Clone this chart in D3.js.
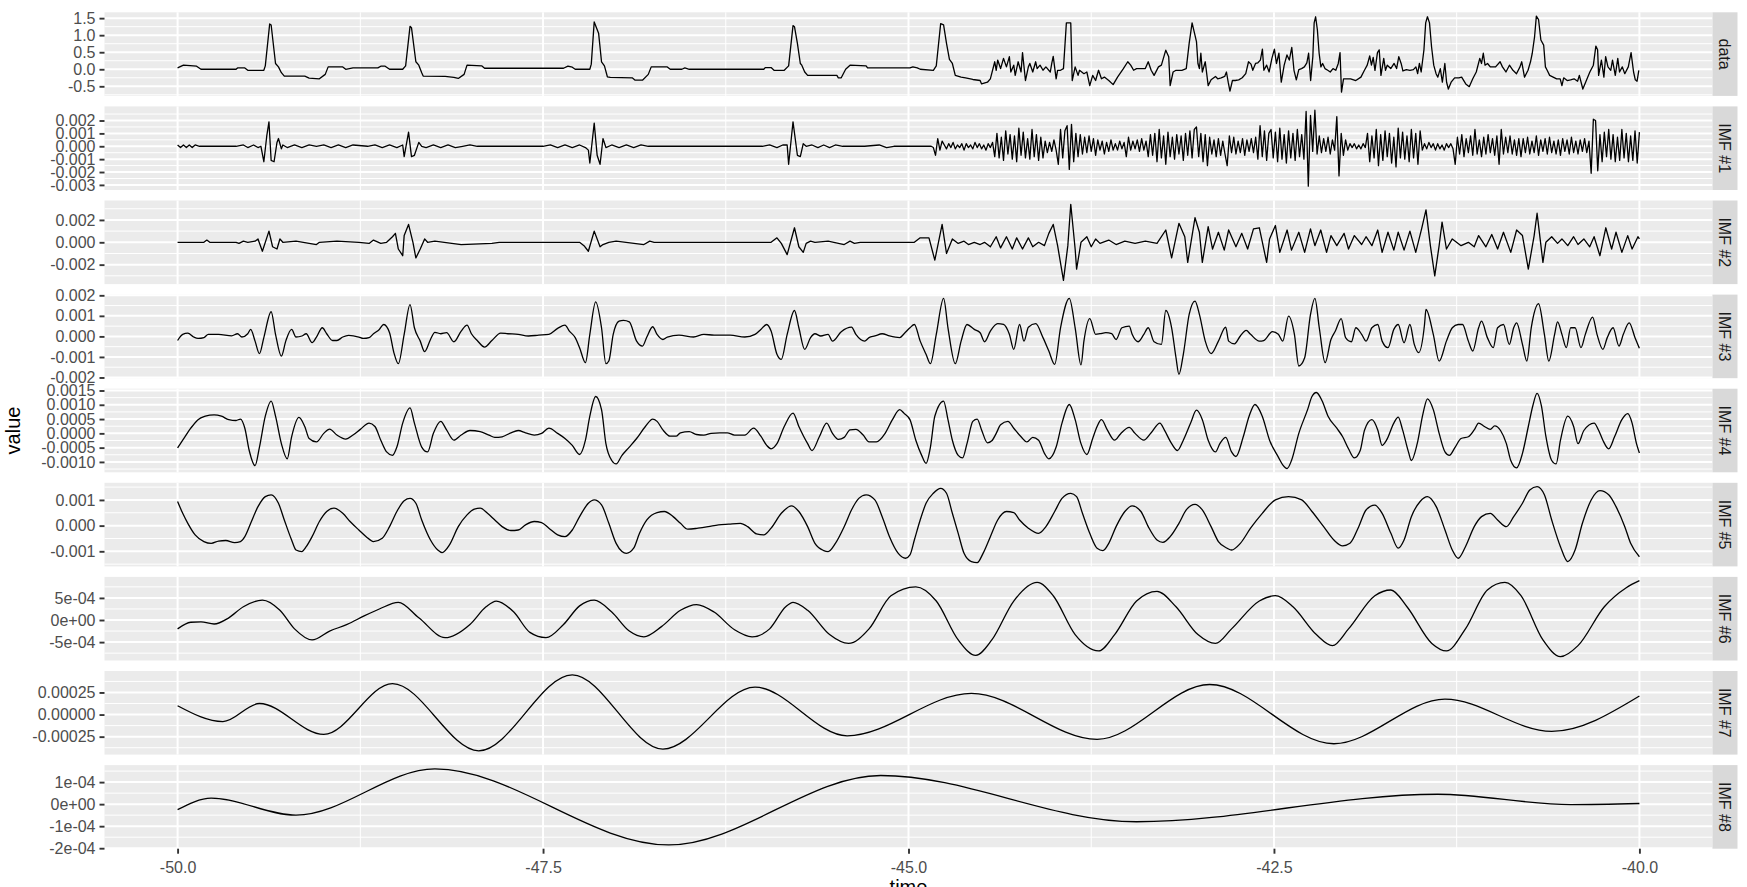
<!DOCTYPE html>
<html><head><meta charset="utf-8">
<script src="https://cdn.jsdelivr.net/npm/d3@7"></script>
<style>body{margin:0;background:#fff}svg{display:block}</style>
</head><body>
<svg id="chart" width="1747" height="887"></svg>
<script>
// ---------------- DATA ----------------
const panelLabels = ["data","IMF #1","IMF #2","IMF #3","IMF #4","IMF #5","IMF #6","IMF #7","IMF #8"];
const xTicks = [-50,-47.5,-45,-42.5,-40];
const xTickLabels = ["-50.0","-47.5","-45.0","-42.5","-40.0"];
const xTitle = "time", yTitle = "value";

const yTicksData = [-0.5,0,0.5,1,1.5];
const yLabelsData = ["-0.5","0.0","0.5","1.0","1.5"];
const yTicksImf1 = [-0.003,-0.002,-0.001,0,0.001,0.002];
const yLabelsImf1 = ["-0.003","-0.002","-0.001","0.000","0.001","0.002"];
const yTicksImf2 = [-0.002,0,0.002];
const yLabelsImf2 = ["-0.002","0.000","0.002"];
const yTicksImf3 = [-0.002,-0.001,0,0.001,0.002];
const yLabelsImf3 = ["-0.002","-0.001","0.000","0.001","0.002"];
const yTicksImf4 = [-0.001,-0.0005,0,0.0005,0.001,0.0015];
const yLabelsImf4 = ["-0.0010","-0.0005","0.0000","0.0005","0.0010","0.0015"];
const yTicksImf5 = [-0.001,0,0.001];
const yLabelsImf5 = ["-0.001","0.000","0.001"];
const yTicksImf6 = [-0.0005,0,0.0005];
const yLabelsImf6 = ["-5e-04","0e+00","5e-04"];
const yTicksImf7 = [-0.00025,0,0.00025];
const yLabelsImf7 = ["-0.00025","0.00000","0.00025"];
const yTicksImf8 = [-0.0002,-0.0001,0,0.0001];
const yLabelsImf8 = ["-2e-04","-1e-04","0e+00","1e-04"];

const seriesData = [
[-50.00,0.04],[-49.96,0.12],[-49.87,0.09],[-49.84,0.00],[-49.60,0.00],[-49.59,0.04],[-49.54,0.04],[-49.52,-0.03],[-49.41,-0.03],[-49.40,0.10],[-49.37,1.33],[-49.36,1.30],[-49.33,0.17],[-49.31,0.07],[-49.29,-0.10],[-49.27,-0.20],[-49.13,-0.20],[-49.10,-0.26],[-49.03,-0.28],[-48.99,-0.15],[-48.97,0.07],[-48.87,0.07],[-48.85,0.00],[-48.80,0.04],[-48.63,0.04],[-48.61,0.09],[-48.58,0.09],[-48.55,0.00],[-48.46,0.00],[-48.44,0.10],[-48.41,1.26],[-48.40,1.22],[-48.37,0.22],[-48.35,0.12],[-48.33,-0.10],[-48.32,-0.20],[-48.17,-0.21],[-48.11,-0.24],[-48.08,-0.27],[-48.04,-0.15],[-48.02,0.12],[-47.92,0.10],[-47.90,0.03],[-47.36,0.03],[-47.33,0.09],[-47.30,0.06],[-47.28,0.00],[-47.18,0.00],[-47.17,0.15],[-47.15,1.39],[-47.12,1.06],[-47.10,0.22],[-47.08,0.10],[-47.06,-0.22],[-47.04,-0.24],[-46.89,-0.25],[-46.87,-0.32],[-46.82,-0.32],[-46.78,-0.15],[-46.76,0.07],[-46.65,0.07],
[-46.63,0.00],[-46.55,0.00],[-46.53,0.04],[-46.50,0.00],[-45.99,0.00],[-45.98,0.05],[-45.94,0.05],[-45.92,-0.03],[-45.85,-0.03],[-45.82,0.10],[-45.79,1.28],[-45.78,1.25],[-45.76,0.76],[-45.74,0.17],[-45.73,0.12],[-45.71,-0.08],[-45.69,-0.18],[-45.49,-0.18],[-45.48,-0.25],[-45.46,-0.25],[-45.43,0.00],[-45.40,0.12],[-45.29,0.10],[-45.28,0.04],[-44.99,0.04],[-44.97,0.07],[-44.94,0.04],[-44.92,0.00],[-44.83,-0.03],[-44.81,0.10],[-44.78,1.34],[-44.76,1.30],[-44.74,0.76],[-44.72,0.29],[-44.70,0.17],[-44.68,-0.18],[-44.64,-0.23],[-44.61,-0.25],[-44.56,-0.30],[-44.51,-0.33],[-44.50,-0.43],[-44.46,-0.38],[-44.44,-0.28],[-44.41,0.22],[-44.40,-0.03],[-44.39,0.27],[-44.37,0.02],[-44.35,0.32],[-44.33,0.07],[-44.31,0.37],[-44.30,-0.08],[-44.28,0.12],[-44.27,-0.18],[-44.25,0.22],[-44.23,-0.08],[-44.22,0.49],[-44.20,-0.33],[-44.18,0.07],[-44.17,0.17],[-44.15,-0.08],[-44.13,0.22],[-44.12,0.02],[-44.10,0.12],[-44.08,-0.03],[-44.06,0.07],[-44.03,-0.08],[-44.02,0.17],[-44.01,0.38],[-43.99,-0.28],[-43.98,-0.03],[-43.96,-0.03],[-43.94,0.02],[-43.92,1.36],[-43.89,1.36],[-43.88,-0.33],[-43.86,0.07],[-43.84,-0.18],[-43.83,-0.03],[-43.80,-0.13],[-43.78,-0.08],[-43.76,-0.48],[-43.74,-0.18],[-43.72,-0.33],[-43.70,-0.03],[-43.68,-0.28],[-43.66,-0.23],[-43.63,-0.33],[-43.60,-0.45],[-43.57,-0.23],[-43.53,0.02],[-43.50,0.22],[-43.48,0.12],[-43.46,-0.03],[-43.44,0.02],[-43.38,0.02],[-43.36,0.22],[-43.34,-0.03],[-43.32,-0.18],[-43.29,0.07],[-43.27,0.12],[-43.24,0.56],[-43.22,0.37],[-43.21,-0.48],[-43.19,-0.08],[-43.17,-0.03],[-43.13,-0.03],[-43.10,0.02],[-43.08,0.76],[-43.06,1.36],[-43.03,0.81],[-43.02,0.17],[-43.01,0.02],[-43.00,0.47],[-42.99,-0.08],[-42.97,0.22],[-42.95,-0.48],[-42.93,-0.31],[-42.90,-0.21],
[-42.885,-0.28],[-42.861,-0.25],[-42.837,-0.21],[-42.825,-0.08],[-42.813,-0.38],[-42.801,-0.64],[-42.784,-0.33],[-42.765,-0.33],[-42.741,-0.31],[-42.717,-0.25],[-42.693,-0.13],[-42.674,0.22],[-42.657,0.15],[-42.645,-0.03],[-42.626,0.17],[-42.610,0.19],[-42.593,0.27],[-42.579,0.59],[-42.569,-0.03],[-42.550,0.12],[-42.533,-0.08],[-42.514,0.32],[-42.497,0.59],[-42.483,0.17],[-42.466,0.47],[-42.450,-0.38],[-42.430,0.12],[-42.411,0.42],[-42.395,0.27],[-42.378,0.64],[-42.363,-0.03],[-42.347,-0.31],[-42.330,-0.01],[-42.311,0.02],[-42.292,0.07],[-42.275,0.19],[-42.263,0.47],[-42.249,-0.33],[-42.234,0.37],[-42.225,1.36],[-42.215,1.54],[-42.203,1.16],[-42.191,0.47],[-42.179,0.07],[-42.167,0.17],[-42.151,0.02],[-42.132,-0.03],[-42.115,-0.08],[-42.096,0.02],[-42.077,-0.03],[-42.060,0.17],[-42.048,0.49],[-42.038,-0.67],[-42.024,-0.28],[-42.000,-0.28],[-41.976,-0.28],[-41.940,-0.33],[-41.905,-0.23],[-41.881,-0.03],[-41.862,0.12],[-41.845,0.39],[-41.833,0.12],[-41.821,0.35],[-41.809,-0.03],[-41.792,0.49],[-41.780,0.57],[-41.768,-0.18],[-41.749,0.32],[-41.737,-0.03],[-41.725,0.12],[-41.701,0.02],[-41.678,0.17],[-41.661,0.02],[-41.646,0.37],[-41.630,0.17],[-41.618,-0.05],[-41.594,-0.01],[-41.570,-0.03],[-41.546,-0.01],[-41.529,0.07],[-41.517,-0.13],[-41.505,0.17],[-41.493,-0.08],[-41.474,0.57],[-41.462,1.36],[-41.450,1.54],[-41.436,1.36],[-41.422,0.66],[-41.407,0.12],[-41.391,-0.13],[-41.379,-0.23],[-41.362,0.02],[-41.348,-0.38],[-41.331,0.17],[-41.319,-0.38],[-41.307,-0.58],[-41.288,-0.38],[-41.264,-0.25],[-41.235,-0.25],[-41.216,-0.23],[-41.188,-0.43],[-41.164,-0.51],[-41.140,-0.28],[-41.116,-0.08],[-41.092,0.32],[-41.080,0.17],[-41.068,0.47],[-41.056,0.12],[-41.039,0.17],[-41.020,0.07],[-40.984,0.07],[-40.953,0.22],[-40.937,0.07],[-40.913,-0.08],[-40.889,0.12],[-40.865,-0.03],[-40.841,-0.13],[-40.817,0.07],[-40.805,0.22],[-40.786,-0.23],[-40.762,-0.03],[-40.745,0.22],[-40.733,0.47],[-40.717,0.96],[-40.705,1.56],[-40.690,1.46],[-40.674,0.86],[-40.655,0.71],[-40.643,0.07],[-40.631,-0.03],[-40.614,-0.18],[-40.590,-0.23],[-40.566,-0.28],[-40.542,-0.28],[-40.530,-0.48],[-40.518,-0.25],[-40.494,-0.33],[-40.471,-0.31],[-40.447,-0.28],[-40.423,-0.35],[-40.411,-0.18],[-40.387,-0.58],[-40.363,-0.33],[-40.339,-0.08],[-40.315,0.12],[-40.298,0.68],[-40.286,0.57],[-40.279,-0.18],[-40.260,0.27],[-40.243,-0.23],[-40.231,0.37],[-40.215,0.07],[-40.196,-0.03],[-40.184,0.27],[-40.165,-0.18],[-40.148,0.32],[-40.136,-0.08],[-40.117,0.07],[-40.100,-0.13],[-40.076,0.07],[-40.057,0.49],[-40.040,-0.08],[-40.028,-0.31],[-40.016,-0.35],[-40.004,-0.03]
];

const seriesImf1Sparse = [
[-50.00,1e-4],[-49.98,-1e-4],[-49.96,1e-4],[-49.94,-1e-4],[-49.92,1e-4],[-49.90,-1e-4],[-49.88,1e-4],[-49.85,0],[-49.60,0],[-49.55,1e-4],[-49.52,-1e-4],[-49.48,1e-4],[-49.45,-1e-4],[-49.43,0],[-49.41,-12e-4],[-49.39,8e-4],[-49.375,19e-4],[-49.36,-11e-4],[-49.34,-12e-4],[-49.32,3e-4],[-49.31,6e-4],[-49.29,-2e-4],[-49.28,1e-4],[-49.25,-1e-4],[-49.20,1e-4],[-49.15,-1e-4],[-49.10,1e-4],[-49.05,0],[-49.00,1e-4],[-48.95,-1e-4],[-48.90,1e-4],[-48.85,-1e-4],[-48.80,1e-4],[-48.70,0],[-48.65,1e-4],[-48.60,-1e-4],[-48.55,1e-4],[-48.50,-1e-4],[-48.46,1e-4],[-48.45,-8e-4],[-48.42,11e-4],[-48.40,-8e-4],[-48.38,-7e-4],[-48.35,3e-4],[-48.33,0],[-48.30,-1e-4],[-48.25,1e-4],[-48.20,-1e-4],[-48.15,1e-4],[-48.10,-1e-4],[-48.05,0],[-48.00,1e-4],[-47.95,0],[-47.50,0],[-47.45,1e-4],[-47.40,-1e-4],[-47.35,1e-4],[-47.30,-1e-4],[-47.25,1e-4],[-47.21,-1e-4],[-47.19,-3e-4],[-47.18,-13e-4],[-47.15,18e-4],[-47.13,-7e-4],[-47.11,-14e-4],[-47.09,6e-4],[-47.07,-1e-4],[-47.03,1e-4],[-46.98,-1e-4],[-46.93,1e-4],[-46.88,-1e-4],[-46.83,1e-4],[-46.78,0],[-46.50,0],[-46.00,0],[-45.95,1e-4],[-45.90,-1e-4],[-45.86,1e-4],[-45.83,1e-4],[-45.82,-14e-4],[-45.79,19e-4],[-45.76,-7e-4],[-45.74,-8e-4],[-45.72,2e-4],[-45.70,0],[-45.66,1e-4],[-45.62,-1e-4],[-45.58,1e-4],[-45.54,-1e-4],[-45.50,1e-4],[-45.45,0],[-45.30,0],[-45.20,1e-4],[-45.15,-1e-4],[-45.10,0],[-44.86,0]
];
const imf1DenseStart = -44.845, imf1DenseEnd = -40.0;
const seriesImf1Dense = [
0,-1e-4,-7e-4,6e-4,-3e-4,4e-4,
1e-4,-2e-4,2e-4,-1e-4,3e-4,-2e-4,1e-4,-1e-4,2e-4,-3e-4,2e-4,-1e-4,1e-4,-2e-4,3e-4,-1e-4,2e-4,-2e-4,1e-4,-3e-4,2e-4,-1e-4,3e-4,
-8e-4,10e-4,-9e-4,7e-4,-11e-4,12e-4,-6e-4,9e-4,-10e-4,8e-4,-12e-4,14e-4,-7e-4,11e-4,-9e-4,6e-4,-10e-4,13e-4,-8e-4,9e-4,-11e-4,7e-4,-9e-4,
4e-4,-5e-4,3e-4,-4e-4,5e-4,-3e-4,
-14e-4,13e-4,-9e-4,12e-4,16e-4,-18e-4,17e-4,-12e-4,10e-4,-8e-4,9e-4,
-6e-4,7e-4,-5e-4,8e-4,-4e-4,6e-4,-7e-4,5e-4,-3e-4,4e-4,-6e-4,3e-4,-4e-4,5e-4,-3e-4,
2e-4,-3e-4,4e-4,-2e-4,3e-4,-8e-4,7e-4,-3e-4,4e-4,-2e-4,5e-4,-4e-4,6e-4,-3e-4,4e-4,-8e-4,
9e-4,-7e-4,10e-4,-12e-4,13e-4,-9e-4,8e-4,-14e-4,11e-4,-8e-4,7e-4,-10e-4,9e-4,-6e-4,8e-4,-11e-4,10e-4,-7e-4,12e-4,-9e-4,13e-4,15e-4,-8e-4,10e-4,-12e-4,9e-4,-15e-4,
7e-4,-6e-4,5e-4,-8e-4,6e-4,-7e-4,4e-4,-6e-4,-15e-4,8e-4,-5e-4,7e-4,-6e-4,4e-4,-5e-4,6e-4,-7e-4,5e-4,-4e-4,6e-4,-5e-4,7e-4,
-10e-4,16e-4,-8e-4,12e-4,-11e-4,10e-4,13e-4,-9e-4,11e-4,-12e-4,14e-4,-10e-4,9e-4,-13e-4,12e-4,-9e-4,10e-4,-11e-4,13e-4,-8e-4,9e-4,-10e-4,
27e-4,-31e-4,24e-4,-4e-4,28e-4,-6e-4,
8e-4,-5e-4,6e-4,-4e-4,7e-4,-6e-4,5e-4,-3e-4,
23e-4,-23e-4,10e-4,
-7e-4,5e-4,-3e-4,
2e-4,-1e-4,2e-4,-2e-4,1e-4,-2e-4,2e-4,-1e-4,
10e-4,-12e-4,8e-4,-9e-4,13e-4,-15e-4,9e-4,-11e-4,12e-4,-8e-4,10e-4,-13e-4,7e-4,-16e-4,14e-4,-9e-4,11e-4,-10e-4,8e-4,-12e-4,13e-4,-9e-4,10e-4,-14e-4,12e-4,
-3e-4,2e-4,-2e-4,3e-4,-1e-4,2e-4,-3e-4,2e-4,-2e-4,1e-4,-3e-4,2e-4,-1e-4,2e-4,-2e-4,
-14e-4,7e-4,-6e-4,9e-4,-8e-4,6e-4,-5e-4,8e-4,-7e-4,13e-4,-6e-4,5e-4,-8e-4,7e-4,-6e-4,9e-4,-5e-4,6e-4,-7e-4,8e-4,-14e-4,13e-4,-6e-4,7e-4,-5e-4,8e-4,-6e-4,5e-4,-7e-4,6e-4,-8e-4,
6e-4,-5e-4,7e-4,-6e-4,4e-4,-5e-4,8e-4,-7e-4,5e-4,-4e-4,6e-4,-6e-4,7e-4,-5e-4,4e-4,-6e-4,5e-4,-7e-4,6e-4,-4e-4,5e-4,-6e-4,7e-4,-5e-4,4e-4,-6e-4,5e-4,-4e-4,6e-4,-5e-4,4e-4,
-21e-4,21e-4,20e-4,-19e-4,
9e-4,-12e-4,11e-4,-8e-4,13e-4,-10e-4,9e-4,-12e-4,7e-4,-11e-4,13e-4,-9e-4,10e-4,-12e-4,8e-4,-11e-4,12e-4,-13e-4,11e-4
];

const seriesImf2 = [
[-50.00,0],[-49.82,0],[-49.80,2e-4],[-49.78,0],[-49.60,0],[-49.58,-1e-4],[-49.55,1e-4],[-49.52,0],[-49.47,1e-4],[-49.45,3e-4],[-49.42,-8e-4],[-49.375,10e-4],[-49.35,-4e-4],[-49.32,-6e-4],[-49.30,3e-4],[-49.28,0],[-49.19,1e-4],[-49.05,-2e-4],[-49.03,0],[-48.91,1e-4],[-48.76,0],[-48.69,-1e-4],[-48.66,2e-4],[-48.61,-1e-4],[-48.57,0],[-48.53,5e-4],[-48.51,8e-4],[-48.49,-6e-4],[-48.46,-12e-4],[-48.45,6e-4],[-48.42,16e-4],[-48.39,0],[-48.37,-14e-4],[-48.34,-6e-4],[-48.31,3e-4],[-48.29,0],[-48.24,1e-4],[-48.06,-2e-4],[-47.85,-1e-4],[-47.80,0],[-47.25,0],[-47.22,-3e-4],[-47.19,-8e-4],[-47.15,10e-4],[-47.11,-4e-4],[-47.09,-2e-4],[-47.05,0],[-47.00,1e-4],[-46.81,-2e-4],[-46.77,1e-4],[-46.74,0],[-45.97,0],[-45.94,0],[-45.90,4e-4],[-45.87,-1e-4],[-45.83,-11e-4],[-45.78,13e-4],[-45.75,-4e-4],[-45.72,-9e-4],[-45.70,-1e-4],[-45.67,1e-4],[-45.64,0],[-45.55,1e-4],[-45.44,-2e-4],[-45.40,1e-4],[-45.37,-1e-4],[-45.33,0],[-44.96,0],
[-44.92,4e-4],[-44.86,4e-4],[-44.82,-16e-4],[-44.77,16e-4],[-44.74,-10e-4],[-44.70,3e-4],[-44.66,-1e-4],[-44.62,1e-4],[-44.59,-2e-4],[-44.55,0],[-44.51,-2e-4],[-44.48,0],[-44.44,-4e-4],[-44.40,5e-4],[-44.37,-5e-4],[-44.33,5e-4],[-44.29,-6e-4],[-44.26,4e-4],[-44.22,-6e-4],[-44.18,4e-4],[-44.15,-4e-4],[-44.11,0],[-44.07,-3e-4],[-44.04,8e-4],[-44.01,16e-4],[-43.98,-3e-4],[-43.94,-34e-4],[-43.91,-3e-4],[-43.89,34e-4],[-43.86,-6e-4],[-43.85,-24e-4],[-43.82,0],[-43.78,5e-4],[-43.75,-4e-4],[-43.72,3e-4],[-43.69,-1e-4],[-43.63,2e-4],[-43.58,-2e-4],[-43.52,1e-4],[-43.45,-1e-4],[-43.38,1e-4],[-43.30,-1e-4],[-43.24,11e-4],[-43.20,-14e-4],[-43.15,17e-4],[-43.11,5e-4],[-43.09,-18e-4],[-43.04,22e-4],[-43.01,9e-4],[-42.99,-18e-4],[-42.95,14e-4],[-42.92,-6e-4],[-42.88,9e-4],[-42.84,-7e-4],[-42.81,11e-4],[-42.76,-4e-4],[-42.72,8e-4],[-42.68,-6e-4],[-42.64,12e-4],[-42.60,13e-4],[-42.55,-18e-4],[-42.53,3e-4],[-42.49,15e-4],[-42.46,-9e-4],[-42.41,11e-4],[-42.38,-7e-4],[-42.33,9e-4],[-42.29,-9e-4],[-42.25,12e-4],[-42.22,-3e-4],[-42.18,11e-4],[-42.14,-9e-4],[-42.11,6e-4],[-42.07,-3e-4],[-42.02,8e-4],[-41.99,-6e-4],[-41.95,6e-4],[-41.90,-2e-4],[-41.87,5e-4],[-41.83,-3e-4],[-41.79,11e-4],[-41.76,-9e-4],[-41.72,9e-4],[-41.68,-7e-4],[-41.65,9e-4],[-41.61,-7e-4],[-41.57,10e-4],[-41.53,-9e-4],[-41.49,12e-4],[-41.46,29e-4],[-41.43,-3e-4],[-41.40,-30e-4],[-41.37,-3e-4],[-41.35,18e-4],[-41.32,-6e-4],[-41.28,3e-4],[-41.22,-3e-4],[-41.17,0],[-41.13,-4e-4],[-41.10,6e-4],[-41.05,-4e-4],[-41.01,7e-4],[-40.97,-6e-4],[-40.93,9e-4],[-40.88,-9e-4],[-40.84,11e-4],[-40.80,6e-4],[-40.76,-24e-4],[-40.72,6e-4],[-40.70,26e-4],[-40.66,-18e-4],[-40.64,0],[-40.60,5e-4],[-40.56,-1e-4],[-40.53,3e-4],[-40.49,-3e-4],[-40.45,5e-4],[-40.42,-2e-4],[-40.38,3e-4],[-40.34,-4e-4],[-40.31,5e-4],[-40.27,-12e-4],[-40.23,13e-4],[-40.19,-6e-4],[-40.16,9e-4],[-40.12,-9e-4],[-40.08,6e-4],[-40.05,-6e-4],[-40.01,5e-4],[-40.00,3e-4]
];

const seriesImf3 = [
[-50.00,-0.0002],[-49.965,0.0001],[-49.93,0.00016],[-49.89,-0.00003],[-49.86,-0.0001],[-49.82,-0.00006],[-49.79,0.0001],[-49.72,0.0001],[-49.63,0.00003],[-49.59,0.00013],[-49.56,-0.00003],[-49.52,0.00013],[-49.50,0.00034],[-49.47,-0.00023],[-49.44,-0.00084],[-49.41,-0.00006],[-49.36,0.0012],[-49.33,0.0001],[-49.29,-0.00096],[-49.26,-0.00023],[-49.22,0.00034],[-49.19,-0.00003],[-49.15,0.00002],[-49.12,0.00013],[-49.08,-0.0003],[-49.05,-0.00003],[-49.01,0.00042],[-48.98,0.00013],[-48.94,-0.0002],[-48.91,-0.0002],[-48.87,-0.00003],[-48.83,0.00005],[-48.76,-0.00003],[-48.73,-0.0001],[-48.69,-0.00006],[-48.66,0.00013],[-48.62,0.00034],[-48.59,0.00058],[-48.55,0.00018],[-48.52,-0.0008],[-48.49,-0.00133],[-48.45,0.0001],[-48.41,0.00155],[-48.38,0.00042],[-48.34,-0.00023],[-48.31,-0.00074],[-48.27,-0.00015],[-48.24,0.0002],[-48.20,0.00013],[-48.16,0.00018],[-48.11,-0.00026],[-48.06,0.00026],[-48.02,0.00055],[-47.99,0.00013],[-47.95,-0.0002],[-47.90,-0.00052],[-47.85,-0.0002],[-47.79,0.00016],[-47.74,0.00013],[-47.67,0.0001],[-47.60,0.00002],[-47.53,0.00006],[-47.46,0.0001],[-47.40,0.00039],[-47.35,0.00055],[-47.32,0.00026],[-47.28,-0.00006],[-47.25,-0.00055],[-47.21,-0.00128],[-47.18,0.0001],[-47.14,0.00168],[-47.10,0.00042],[-47.07,-0.00133],[-47.05,-0.0012],[-47.02,0.0001],[-46.98,0.00074],[-46.95,0.00078],[-46.91,0.00071],[-46.86,-0.00023],[-46.82,-0.00047],[-46.79,-0.00003],[-46.75,0.00047],[-46.72,0.0001],[-46.68,-0.00015],[-46.65,-0.00003],[-46.57,0.00006],[-46.47,-0.00003],[-46.40,0.0001],[-46.33,0.00006],[-46.22,0.00006],[-46.12,-0.00003],[-46.05,0.0001],[-46.01,0.00034],[-45.97,0.00058],[-45.94,0.00026],[-45.90,-0.00087],[-45.87,-0.00112],[-45.83,0.0001],[-45.78,0.00126],[-45.75,0.00042],[-45.71,-0.00063],[-45.67,-0.00006],[-45.64,0.00013],[-45.60,0.00002],[-45.55,0.0001],[-45.52,-0.00023],[-45.46,0.00023],[-45.39,0.00045],[-45.36,0.0001],[-45.30,-0.00023],[-45.27,-0.00006],[-45.23,0.00002],[-45.18,0.00013],[-45.13,0.00002],[-45.06,-0.00006],
[-45.03,0.00013],[-44.99,0.00042],[-44.96,0.00058],[-44.92,-0.00023],[-44.88,-0.00087],[-44.85,-0.00133],[-44.81,0.0001],[-44.76,0.00185],[-44.73,0.00042],[-44.68,-0.00133],[-44.64,-0.00023],[-44.60,0.00058],[-44.55,0.00034],[-44.51,0.00018],[-44.48,-0.00026],[-44.44,0.00026],[-44.39,0.00062],[-44.35,0.00058],[-44.31,0.0001],[-44.28,-0.00063],[-44.24,0.00058],[-44.21,-0.00023],[-44.18,0.00045],[-44.13,0.00062],[-44.08,-0.00006],[-44.04,-0.00071],[-44.00,-0.00136],[-43.96,0.00042],[-43.90,0.00185],[-43.86,0.00042],[-43.82,-0.00139],[-43.80,-0.00023],[-43.76,0.00087],[-43.72,0.0001],[-43.69,0.00013],[-43.65,0.00018],[-43.61,0.00013],[-43.58,-0.00015],[-43.54,0.00042],[-43.49,0.0005],[-43.47,0.0001],[-43.43,-0.00026],[-43.39,0.0001],[-43.36,0.00042],[-43.32,-0.00026],[-43.27,-0.00039],[-43.24,0.00126],[-43.20,0.00042],[-43.17,-0.00104],[-43.15,-0.00185],[-43.12,-0.00087],[-43.08,0.00107],[-43.04,0.00172],[-43.01,0.00107],[-42.97,-0.00023],[-42.93,-0.00084],[-42.88,-0.00023],[-42.83,0.00045],[-42.81,-0.00023],[-42.77,-0.00036],[-42.73,0.00002],[-42.69,0.00029],[-42.66,0.0001],[-42.60,-0.00023],[-42.57,-0.0002],[-42.51,0.00023],[-42.47,0.0001],[-42.44,-0.00023],[-42.40,0.00099],[-42.36,0.0001],[-42.33,-0.00144],[-42.29,-0.00104],[-42.25,0.00107],[-42.22,0.00185],[-42.19,0.00042],[-42.15,-0.00128],[-42.11,-0.00015],[-42.08,0.00026],[-42.04,0.00087],[-42.01,-0.00006],[-41.97,-0.00026],[-41.94,0.00042],[-41.90,0.0001],[-41.87,-0.00023],[-41.83,0.00042],[-41.79,0.00058],[-41.76,-0.00023],[-41.72,-0.00055],[-41.68,0.00034],[-41.65,0.00058],[-41.61,-0.00031],[-41.57,0.00058],[-41.54,-0.00039],[-41.51,-0.00079],[-41.47,0.00058],[-41.46,0.00131],[-41.41,0.0001],[-41.37,-0.0012],[-41.32,-0.00023],[-41.28,0.00042],[-41.24,0.00058],[-41.21,0.00058],[-41.17,-0.00023],[-41.14,-0.00071],[-41.10,0.00042],[-41.08,0.00074],[-41.04,-0.00006],[-41.00,-0.00055],[-40.97,0.00042],[-40.93,0.00058],[-40.89,-0.00039],[-40.86,0.00042],[-40.84,0.00066],[-40.80,-0.00039],[-40.77,-0.0012],[-40.74,0.00042],[-40.69,0.00159],[-40.65,0.0001],[-40.62,-0.0012],[-40.58,0.0001],[-40.56,0.00071],[-40.53,0.0001],[-40.50,-0.00055],[-40.47,0.00042],[-40.44,0.00042],[-40.40,-0.00055],[-40.37,0.0001],[-40.32,0.00094],[-40.29,0.0001],[-40.25,-0.00063],[-40.22,-0.00006],[-40.18,0.00042],[-40.14,-0.00047],[-40.11,0.0001],[-40.07,0.00066],[-40.03,-0.00006],[-40.00,-0.00058]
];

const seriesImf4 = [
[-50.00,-0.00051],[-49.95,-0.00012],[-49.91,0.00018],[-49.86,0.00048],[-49.81,0.0006],[-49.75,0.00065],[-49.70,0.0006],[-49.65,0.00048],[-49.60,0.00045],[-49.57,0.0005],[-49.54,0.00018],[-49.51,-0.0006],[-49.47,-0.00113],[-49.44,-0.00048],[-49.40,0.0006],[-49.36,0.00113],[-49.33,0.0006],[-49.29,-0.00036],[-49.25,-0.00089],[-49.22,-0.00012],[-49.17,0.00056],[-49.13,0.00024],[-49.10,-0.00018],[-49.05,-0.0003],[-49.00,0],[-48.96,0.00015],[-48.91,-0.00006],[-48.85,-0.0002],[-48.80,-0.00006],[-48.75,0.00014],[-48.69,0.00036],[-48.65,0.00024],[-48.61,-0.00024],[-48.57,-0.00065],[-48.53,-0.00077],[-48.50,-0.00048],[-48.46,0.00036],[-48.41,0.00089],[-48.38,0.00036],[-48.33,-0.00048],[-48.29,-0.00065],[-48.25,0],[-48.20,0.00042],[-48.16,0.00012],[-48.11,-0.00024],[-48.06,-0.00006],[-48.00,0.0001],[-47.93,0.00006],[-47.87,-0.00006],[-47.83,-0.00014],[-47.78,-0.00012],[-47.72,0.00002],[-47.67,0.0001],[-47.62,0.00002],[-47.56,-0.00006],[-47.51,0],[-47.46,0.00018],[-47.40,0],[-47.35,-0.00018],[-47.30,-0.00042],[-47.25,-0.00074],[-47.21,-0.00024],[-47.18,0.0006],[-47.14,0.00129],[-47.10,0.00083],[-47.07,-0.00036],[-47.03,-0.00095],[-47.00,-0.00107],[-46.96,-0.00077],[-46.91,-0.00048],[-46.86,-0.00018],[-46.80,0.00024],[-46.75,0.0005],[-46.72,0.00042],[-46.68,0.00012],[-46.63,-0.0001],[-46.59,-0.0001],[-46.56,0.00002],[-46.50,0.00006],[-46.45,-0.00004],[-46.40,-0.00006],[-46.35,0],[-46.29,0.00002],[-46.24,0.00002],[-46.19,-0.00006],[-46.12,-0.00006],[-46.06,0.00018],[-46.01,-0.0001],[-45.97,-0.00042],[-45.94,-0.00054],[-45.90,-0.00036],[-45.85,0.00024],[-45.79,0.00071],[-45.75,0.00024],[-45.69,-0.00036],[-45.66,-0.0006],[-45.61,-0.00012],[-45.56,0.00036],[-45.52,0],[-45.48,-0.00021],[-45.44,-0.00014],[-45.40,0.00012],[-45.36,0.00014],[-45.31,-0.00006],[-45.27,-0.0003],[-45.22,-0.0003],[-45.16,0],[-45.11,0.00048],[-45.06,0.00083],
[-45.03,0.0007],[-44.99,0.00048],[-44.95,-0.00024],[-44.91,-0.00077],[-44.88,-0.00105],[-44.85,-0.00048],[-44.82,0.0006],[-44.76,0.00113],[-44.73,0.00048],[-44.70,-0.00024],[-44.66,-0.00077],[-44.63,-0.00086],[-44.60,-0.00036],[-44.56,0.00042],[-44.53,0.0005],[-44.50,0.00012],[-44.46,-0.00033],[-44.43,-0.00026],[-44.40,0],[-44.37,0.0003],[-44.32,0.00042],[-44.28,0.00018],[-44.23,-0.00012],[-44.19,-0.0003],[-44.15,-0.00014],[-44.11,-0.00024],[-44.07,-0.0007],[-44.04,-0.00089],[-43.99,-0.00048],[-43.95,0.00036],[-43.90,0.00101],[-43.86,0.00048],[-43.82,-0.00036],[-43.78,-0.00074],[-43.74,-0.00018],[-43.71,0.00024],[-43.68,0.00048],[-43.64,0.00012],[-43.59,-0.00024],[-43.55,-0.00002],[-43.49,0.00021],[-43.45,0],[-43.39,-0.00024],[-43.34,0.00002],[-43.28,0.00036],[-43.25,0.00012],[-43.20,-0.00036],[-43.16,-0.0006],[-43.12,-0.00024],[-43.07,0.00036],[-43.03,0.00081],[-42.99,0.00048],[-42.95,-0.00024],[-42.90,-0.00065],[-42.87,-0.00036],[-42.83,-0.00014],[-42.79,-0.00065],[-42.76,-0.00081],[-42.71,-0.00012],[-42.67,0.0006],[-42.63,0.00101],[-42.58,0.0006],[-42.53,-0.00024],[-42.47,-0.00083],[-42.44,-0.0011],[-42.41,-0.00123],[-42.38,-0.00095],[-42.33,0],[-42.27,0.00083],[-42.24,0.00129],[-42.21,0.00143],[-42.17,0.00113],[-42.13,0.0006],[-42.07,0.00018],[-42.03,-0.00012],[-41.99,-0.00054],[-41.95,-0.00086],[-41.91,-0.0006],[-41.88,0.00012],[-41.83,0.00048],[-41.79,0.00012],[-41.76,-0.00042],[-41.73,-0.00024],[-41.68,0.00036],[-41.65,0.00057],[-41.62,0.00012],[-41.58,-0.00065],[-41.56,-0.00095],[-41.52,-0.00036],[-41.48,0.0007],[-41.45,0.00121],[-41.41,0.00083],[-41.37,0],[-41.33,-0.00065],[-41.30,-0.00077],[-41.26,-0.00048],[-41.22,-0.00018],[-41.17,-0.00012],[-41.13,0.00012],[-41.10,0.00036],[-41.06,0.00024],[-41.02,0.00014],[-40.99,0.00026],[-40.95,0.0001],[-40.91,-0.00036],[-40.88,-0.00095],[-40.84,-0.00121],[-40.80,-0.0007],[-40.76,0.00024],[-40.73,0.00095],[-40.70,0.0014],[-40.67,0.00095],[-40.64,-0.0001],[-40.60,-0.00095],[-40.57,-0.00107],[-40.54,-0.00024],[-40.49,0.0006],[-40.45,0.00024],[-40.42,-0.00036],[-40.38,0.0001],[-40.31,0.00036],[-40.28,0.00012],[-40.25,-0.00024],[-40.21,-0.00054],[-40.17,-0.00012],[-40.12,0.00048],[-40.08,0.00069],[-40.05,0.00036],[-40.02,-0.00036],[-40.00,-0.00069]
];

const seriesImf5 = [
[-50.00,0.00094],[-49.965,0.00048],[-49.93,0.00009],[-49.88,-0.00036],[-49.82,-0.00062],[-49.77,-0.00069],[-49.72,-0.0006],[-49.67,-0.00058],[-49.61,-0.00066],[-49.57,-0.00062],[-49.54,-0.00043],[-49.50,0.00009],[-49.45,0.00074],[-49.40,0.00113],[-49.36,0.0012],[-49.31,0.00087],[-49.27,0.00022],[-49.22,-0.00056],[-49.19,-0.00095],[-49.15,-0.00101],[-49.12,-0.00082],[-49.08,-0.00043],[-49.03,0.00016],[-48.98,0.00055],[-48.93,0.00068],[-48.87,0.00048],[-48.82,0.00016],[-48.76,-0.00017],[-48.71,-0.00043],[-48.66,-0.00062],[-48.60,-0.00049],[-48.55,-0.00004],[-48.50,0.00055],[-48.45,0.00097],[-48.41,0.00106],[-48.37,0.00087],[-48.33,0.00022],[-48.27,-0.00056],[-48.22,-0.00095],[-48.19,-0.00105],[-48.14,-0.00075],[-48.08,-0.00004],[-48.02,0.00042],[-47.97,0.00064],[-47.93,0.00068],[-47.88,0.00048],[-47.83,0.00022],[-47.78,-0.00004],[-47.72,-0.00019],[-47.67,-0.00017],[-47.62,0.00003],[-47.56,0.00016],[-47.51,0.00012],[-47.46,-0.0001],[-47.40,-0.00036],[-47.35,-0.00043],[-47.30,-0.00017],[-47.25,0.00035],[-47.19,0.00087],[-47.15,0.001],[-47.10,0.00081],[-47.05,0.00009],[-47.00,-0.00069],[-46.96,-0.00101],[-46.93,-0.00108],[-46.88,-0.00088],[-46.84,-0.0003],[-46.79,0.00022],[-46.72,0.00051],[-46.67,0.00055],[-46.61,0.00035],[-46.56,0.00009],[-46.51,-0.00014],[-46.44,-0.0001],[-46.37,-0.00004],[-46.30,0.00003],[-46.23,0.00006],[-46.15,0.00009],[-46.10,-0.00004],[-46.04,-0.00032],[-45.99,-0.00036],[-45.94,-0.0001],[-45.87,0.00048],[-45.80,0.00077],[-45.75,0.00055],[-45.69,-0.00004],[-45.64,-0.00069],[-45.58,-0.00097],[-45.55,-0.00101],[-45.50,-0.00069],[-45.44,-0.00004],[-45.39,0.00061],[-45.34,0.00106],[-45.29,0.0012],[-45.23,0.001],[-45.18,0.00035],[-45.13,-0.00043],[-45.07,-0.00108],[-45.02,-0.00127],
[-44.99,-0.00114],[-44.96,-0.00056],[-44.92,0.00022],[-44.88,0.00087],[-44.83,0.00126],[-44.78,0.00145],[-44.74,0.00126],[-44.70,0.00048],[-44.66,-0.0003],[-44.62,-0.00108],[-44.57,-0.0014],[-44.53,-0.00144],[-44.49,-0.00108],[-44.44,-0.00043],[-44.39,0.00022],[-44.33,0.00055],[-44.28,0.00051],[-44.24,0.00022],[-44.18,-0.0001],[-44.11,-0.0003],[-44.06,-0.00004],[-44.00,0.00055],[-43.95,0.00106],[-43.89,0.00126],[-43.85,0.00113],[-43.81,0.00048],[-43.76,-0.0003],[-43.71,-0.00088],[-43.67,-0.00097],[-43.63,-0.00069],[-43.58,-0.00004],[-43.52,0.00055],[-43.47,0.00077],[-43.41,0.00055],[-43.36,-0.00004],[-43.30,-0.00056],[-43.26,-0.00065],[-43.21,-0.00043],[-43.15,0.00009],[-43.10,0.00061],[-43.04,0.00083],[-42.99,0.00061],[-42.93,-0.00004],[-42.88,-0.00062],[-42.82,-0.00088],[-42.79,-0.00095],[-42.73,-0.00069],[-42.66,-0.0001],[-42.58,0.00048],[-42.49,0.001],[-42.40,0.00113],[-42.31,0.001],[-42.24,0.00055],[-42.16,-0.00004],[-42.09,-0.00056],[-42.03,-0.00079],[-41.98,-0.00069],[-41.92,-0.00004],[-41.87,0.00061],[-41.81,0.0008],[-41.76,0.00048],[-41.70,-0.0003],[-41.65,-0.00088],[-41.61,-0.00056],[-41.56,0.00035],[-41.50,0.00094],[-41.45,0.00113],[-41.39,0.00074],[-41.33,-0.00017],[-41.28,-0.00095],[-41.24,-0.00127],[-41.19,-0.00082],[-41.13,-0.00004],[-41.08,0.00035],[-41.02,0.00048],[-40.97,0.00022],[-40.91,-0.00004],[-40.86,0.00035],[-40.80,0.00087],[-40.75,0.00139],[-40.70,0.00152],[-40.65,0.0012],[-40.60,0.00022],[-40.54,-0.00082],[-40.49,-0.0014],[-40.44,-0.00095],[-40.39,0.00009],[-40.33,0.001],[-40.27,0.00136],[-40.21,0.0012],[-40.16,0.00074],[-40.10,-0.00004],[-40.06,-0.00069],[-40.00,-0.00121]
];

const seriesImf6 = [
[-50.00,-0.0002],[-49.91,-0.00005],[-49.84,-0.00004],[-49.75,-0.00009],[-49.65,0.00005],[-49.55,0.0003],[-49.42,0.00045],[-49.30,0.00022],[-49.20,-0.0002],[-49.08,-0.00045],[-48.96,-0.00025],[-48.84,-0.0001],[-48.72,0.0001],[-48.62,0.00025],[-48.49,0.0004],[-48.35,0.00005],[-48.17,-0.0004],[-48.00,-0.0001],[-47.89,0.0003],[-47.82,0.00043],[-47.70,0.00018],[-47.59,-0.00028],[-47.48,-0.0004],[-47.36,-0.0001],[-47.25,0.00032],[-47.15,0.00045],[-47.03,0.00018],[-46.91,-0.00025],[-46.81,-0.00038],[-46.69,-0.00015],[-46.56,0.00022],[-46.45,0.00035],[-46.33,0.00018],[-46.19,-0.00022],[-46.07,-0.00038],[-45.95,-0.0002],[-45.84,0.0003],[-45.79,0.0004],[-45.69,0.00022],[-45.54,-0.00033],[-45.41,-0.00053],[-45.27,-0.0002],[-45.12,0.00055],[-44.95,0.00075],[-44.81,0.00043],[-44.66,-0.00045],[-44.54,-0.0008],[-44.43,-0.00045],[-44.28,0.00043],[-44.12,0.00085],[-44.01,0.00055],[-43.86,-0.00033],[-43.70,-0.0007],[-43.59,-0.00033],[-43.44,0.00043],[-43.30,0.00065],[-43.17,0.0003],[-43.02,-0.00033],[-42.90,-0.00053],[-42.79,-0.0002],[-42.60,0.00043],[-42.49,0.00055],[-42.37,0.0003],[-42.21,-0.00033],[-42.10,-0.00058],[-41.99,-0.0002],[-41.81,0.00055],[-41.70,0.00068],[-41.59,0.0003],[-41.42,-0.00053],[-41.32,-0.0007],[-41.19,-0.0002],[-41.04,0.00068],[-40.92,0.00085],[-40.81,0.00055],[-40.66,-0.00045],[-40.54,-0.00083],[-40.42,-0.00058],[-40.24,0.0003],[-40.09,0.00073],[-40.00,0.00089]
];

const seriesImf7 = [
[-50.00,0.0001],[-49.69,-0.00008],[-49.44,0.000125],[-49.00,-0.000225],[-48.53,0.00035],[-47.94,-0.00041],[-47.30,0.00045],[-46.68,-0.00039],[-46.05,0.00031],[-45.42,-0.00024],[-44.57,0.00024],[-43.71,-0.00028],[-42.94,0.00034],[-42.09,-0.00033],[-41.33,0.000175],[-40.60,-0.00019],[-40.00,0.00021]
];

const seriesImf8 = [
[-50.00,-0.000025],[-49.77,0.000027],[-49.19,-0.00005],[-48.24,0.00016],[-46.64,-0.000185],[-45.19,0.00013],[-43.44,-0.00008],[-41.38,0.000045],[-40.47,-0.000002],[-40.00,0.000003]
];

// ---------------- LAYOUT ----------------
const W = 1747, H = 887;
const panelLeft = 104.5, panelRight = 1712.5;
const panelTop0 = 12.3, panelH = 83.6, panelStep = 94.1, stripW = 25;
const FONT = "'Liberation Sans', Arial, Helvetica, sans-serif";

const svg = d3.select("#chart");
svg.append("rect").attr("width", W).attr("height", H).attr("fill", "#ffffff");

function padDomain(ext) { const r = ext[1] - ext[0]; return [ext[0] - 0.05 * r, ext[1] + 0.05 * r]; }
function minorOf(ticks, dom) {
  const out = [];
  for (let i = 0; i < ticks.length - 1; i++) out.push((ticks[i] + ticks[i + 1]) / 2);
  const s = ticks[1] - ticks[0];
  out.push(ticks[0] - s / 2, ticks[ticks.length - 1] + s / 2);
  const lo = Math.min(dom[0], dom[1]), hi = Math.max(dom[0], dom[1]);
  return out.filter(v => v >= lo && v <= hi);
}

const imf1Step = (imf1DenseEnd - imf1DenseStart) / (seriesImf1Dense.length - 1);
const seriesImf1 = seriesImf1Sparse.concat(seriesImf1Dense.map((v, i) => [imf1DenseStart + i * imf1Step, v]));

const panels = [
  { label: panelLabels[0], pts: seriesData, ticks: yTicksData, labels: yLabelsData, curve: d3.curveLinear },
  { label: panelLabels[1], pts: seriesImf1, ticks: yTicksImf1, labels: yLabelsImf1, curve: d3.curveLinear },
  { label: panelLabels[2], pts: seriesImf2, ticks: yTicksImf2, labels: yLabelsImf2, curve: d3.curveLinear },
  { label: panelLabels[3], pts: seriesImf3, ticks: yTicksImf3, labels: yLabelsImf3, curve: d3.curveMonotoneX },
  { label: panelLabels[4], pts: seriesImf4, ticks: yTicksImf4, labels: yLabelsImf4, curve: d3.curveMonotoneX },
  { label: panelLabels[5], pts: seriesImf5, ticks: yTicksImf5, labels: yLabelsImf5, curve: d3.curveMonotoneX },
  { label: panelLabels[6], pts: seriesImf6, ticks: yTicksImf6, labels: yLabelsImf6, curve: d3.curveMonotoneX },
  { label: panelLabels[7], pts: seriesImf7, ticks: yTicksImf7, labels: yLabelsImf7, curve: d3.curveMonotoneX },
  { label: panelLabels[8], pts: seriesImf8, ticks: yTicksImf8, labels: yLabelsImf8, curve: d3.curveMonotoneX }
];

const allT = panels.flatMap(p => p.pts.map(d => d[0]));
const xDom = padDomain(d3.extent(allT));
const x = d3.scaleLinear().domain(xDom).range([panelLeft, panelRight]);
const xMinor = minorOf(xTicks, xDom);

panels.forEach((p, i) => {
  const top = panelTop0 + i * panelStep, bottom = top + panelH;
  const y = d3.scaleLinear().domain(padDomain(d3.extent(p.pts, d => d[1]))).range([bottom, top]);
  const g = svg.append("g");
  g.append("rect").attr("x", panelLeft).attr("y", top).attr("width", panelRight - panelLeft).attr("height", panelH).attr("fill", "#EBEBEB");
  const yMinor = minorOf(p.ticks, y.domain());
  g.selectAll(".ymin").data(yMinor).join("line").attr("class", "ymin")
    .attr("x1", panelLeft).attr("x2", panelRight).attr("y1", d => y(d)).attr("y2", d => y(d))
    .attr("stroke", "#ffffff").attr("stroke-width", 1.0);
  g.selectAll(".xmin").data(xMinor).join("line").attr("class", "xmin")
    .attr("x1", d => x(d)).attr("x2", d => x(d)).attr("y1", top).attr("y2", bottom)
    .attr("stroke", "#ffffff").attr("stroke-width", 1.0);
  g.selectAll(".ymaj").data(p.ticks).join("line").attr("class", "ymaj")
    .attr("x1", panelLeft).attr("x2", panelRight).attr("y1", d => y(d)).attr("y2", d => y(d))
    .attr("stroke", "#ffffff").attr("stroke-width", 2.0);
  g.selectAll(".xmaj").data(xTicks).join("line").attr("class", "xmaj")
    .attr("x1", d => x(d)).attr("x2", d => x(d)).attr("y1", top).attr("y2", bottom)
    .attr("stroke", "#ffffff").attr("stroke-width", 2.0);
  const line = d3.line().x(d => x(d[0])).y(d => y(d[1])).curve(p.curve);
  g.append("path").attr("d", line(p.pts)).attr("fill", "none").attr("stroke", "#000000")
    .attr("stroke-width", 1.3).attr("stroke-linejoin", "round");

  // strip
  g.append("rect").attr("x", panelRight).attr("y", top).attr("width", stripW).attr("height", panelH).attr("fill", "#D9D9D9");
  g.append("text").attr("transform", `translate(${panelRight + stripW / 2},${top + panelH / 2}) rotate(90)`)
    .attr("text-anchor", "middle").attr("dy", "0.35em")
    .style("font-family", FONT).style("font-size", "16px").attr("fill", "#1A1A1A").text(p.label);

  // y axis
  const ax = d3.axisLeft(y).tickValues(p.ticks).tickFormat(d => p.labels[p.ticks.indexOf(d)]).tickSize(5).tickPadding(4);
  const ga = svg.append("g").attr("transform", `translate(${panelLeft},0)`).call(ax);
  ga.attr("font-family", null).attr("font-size", null);
  ga.select(".domain").remove();
  ga.selectAll(".tick line").attr("stroke", "#333333").attr("stroke-width", 1.9);
  ga.selectAll(".tick text").attr("fill", "#4D4D4D").style("font-family", FONT).style("font-size", "16px");

  if (i === panels.length - 1) {
    const axb = d3.axisBottom(x).tickValues(xTicks).tickFormat(d => xTickLabels[xTicks.indexOf(d)]).tickSize(5).tickPadding(4);
    const gb = svg.append("g").attr("transform", `translate(0,${bottom})`).call(axb);
    gb.attr("font-family", null).attr("font-size", null);
    gb.select(".domain").remove();
    gb.selectAll(".tick line").attr("stroke", "#333333").attr("stroke-width", 1.9);
    gb.selectAll(".tick text").attr("fill", "#4D4D4D").style("font-family", FONT).style("font-size", "16px")
      .attr("y", 9).attr("dy", "0.95em");
    svg.append("text").attr("x", (panelLeft + panelRight) / 2).attr("y", bottom + 45)
      .attr("text-anchor", "middle").style("font-family", FONT).style("font-size", "20px").attr("fill", "#000000").text(xTitle);
  }
});

const midY = (panelTop0 + panelTop0 + 8 * panelStep + panelH) / 2;
svg.append("text").attr("transform", `translate(20,${midY}) rotate(-90)`).attr("text-anchor", "middle")
  .style("font-family", FONT).style("font-size", "20px").attr("fill", "#000000").text(yTitle);
</script>
</body></html>
